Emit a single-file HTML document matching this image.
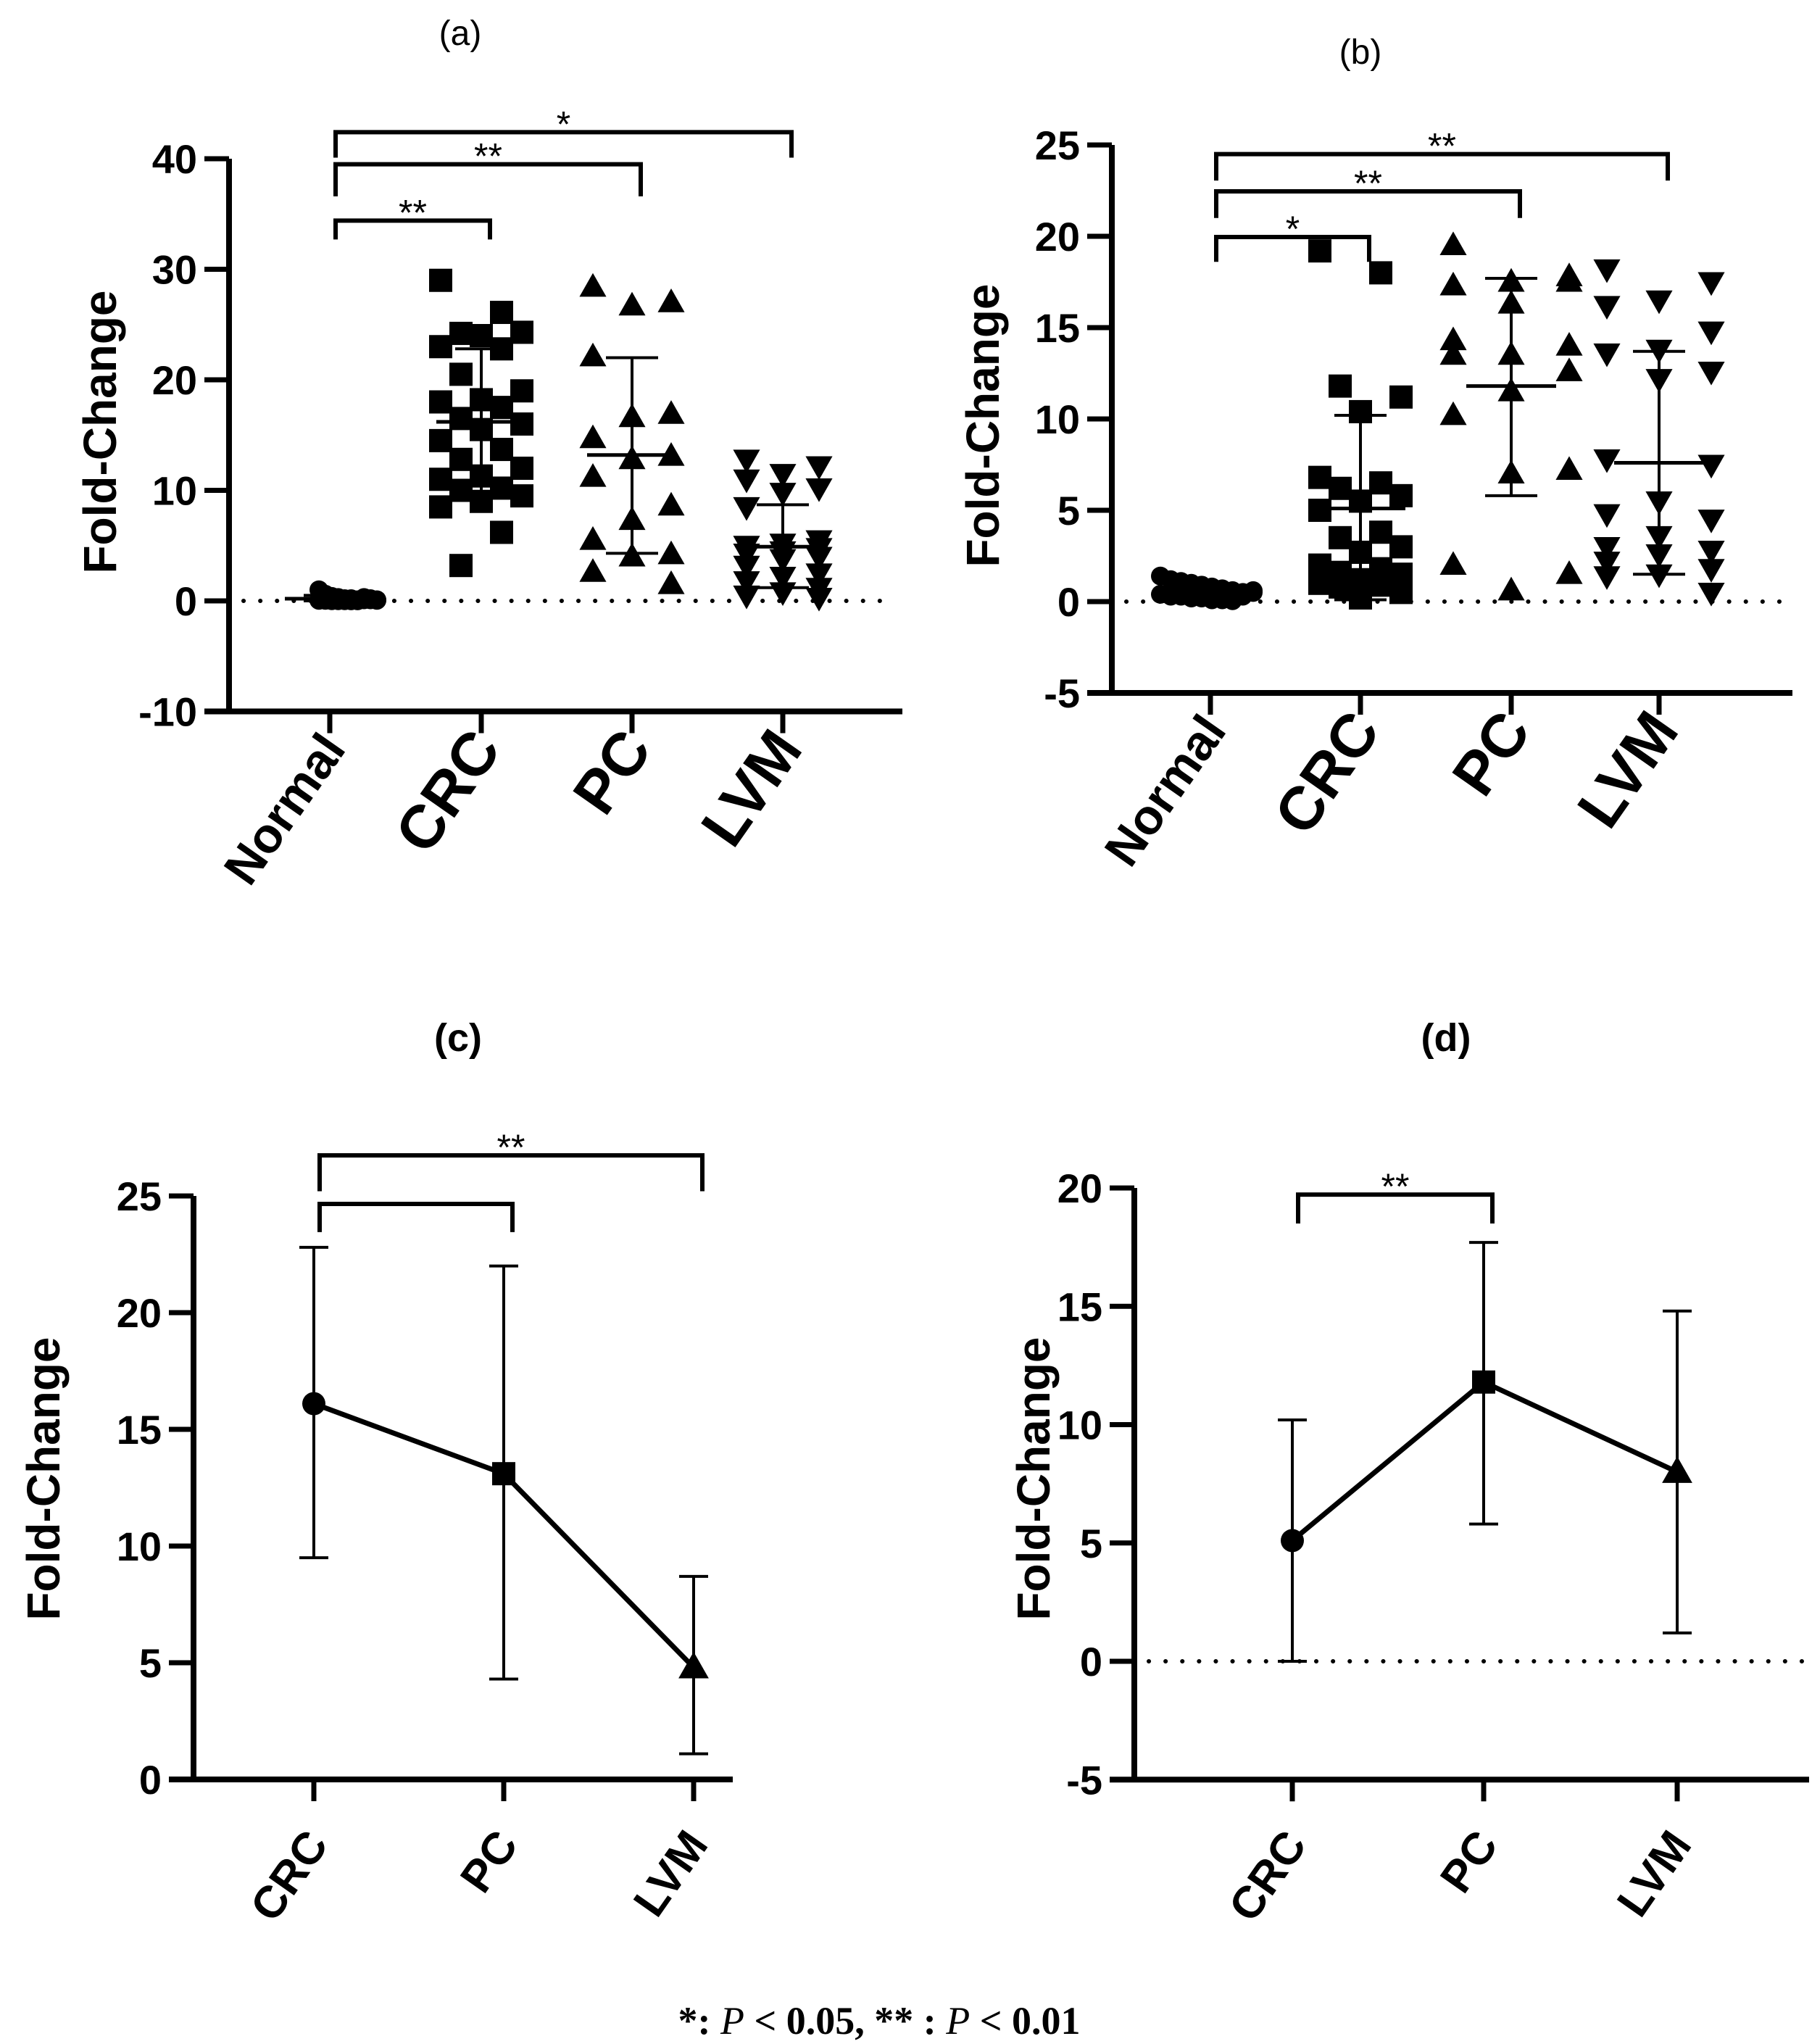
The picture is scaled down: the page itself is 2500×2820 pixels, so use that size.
<!DOCTYPE html>
<html><head><meta charset="utf-8"><style>
html,body{margin:0;padding:0;background:#fff;}
svg{display:block;}
text{font-family:"Liberation Sans",Arial,sans-serif;}
</style></head><body>
<svg id="fig" width="2500" height="2820" viewBox="0 0 2500 2820" xmlns="http://www.w3.org/2000/svg">
<rect width="2500" height="2820" fill="#fff"/>
<text x="635" y="62" font-size="48" text-anchor="middle">(a)</text>
<text x="1877" y="88" font-size="48" text-anchor="middle">(b)</text>
<text x="632" y="1450" font-size="54" font-weight="bold" text-anchor="middle">(c)</text>
<text x="1995" y="1450" font-size="54" font-weight="bold" text-anchor="middle">(d)</text>
<text x="1213" y="2806" font-size="54" font-weight="bold" text-anchor="middle" style="font-family:'Liberation Serif',serif">*: <tspan font-style="italic" font-weight="normal">P</tspan> &lt; 0.05, ** : <tspan font-style="italic" font-weight="normal">P</tspan> &lt; 0.01</text>
</svg>
<script>
// ---- Panel A data ----
const catsA = ["Normal","CRC","PC","LVM"];
const normalA = [1.0,0.6,0.4,0.3,0.2,0.2,0.1,0.1,0.1,0.05,0.05,0.05,0.02,0.02,0.02,0.01,0.01,0.3,0.2,0.1];
const crcA = [29.0,26.1,24.2,24.3,24.0,23.0,22.8,20.5,19.0,18.2,18.0,17.5,16.5,16.0,15.5,14.5,13.7,12.8,12.0,11.3,11.0,10.2,10.0,9.5,9.0,8.5,6.2,3.2];
const pcA = [28.4,27.0,26.7,22.1,16.9,16.6,14.7,13.1,12.8,11.2,8.6,7.3,5.5,4.2,4.0,2.6,1.5];
const lvmA = [12.8,12.2,11.5,11.0,10.2,9.8,8.5,5.5,5.2,5.0,4.8,4.5,4.3,4.0,3.8,3.2,2.5,2.2,1.8,1.2,0.8,0.5,0.3];
const meanA = [0.2,16.2,13.2,4.9];
const sdHiA = [0.5,22.8,22.0,8.7];
const sdLoA = [0.0,9.7,4.3,1.2];
const ticksA = [-10,0,10,20,30,40];
const bracketsA = [[0,1,34.4,32.7,"**"],[0,2,39.5,36.6,"**"],[0,3,42.4,40.1,"*"]];
// ---- Panel B data ----
const catsB = ["Normal","CRC","PC","LVM"];
const normalB = [1.4,1.2,1.1,1.0,0.9,0.8,0.7,0.6,0.5,0.5,0.4,0.3,0.3,0.2,0.2,0.1,0.1,0.05,0.3,0.6];
const crcB = [19.2,18.0,11.8,11.2,10.4,6.8,6.5,6.2,5.8,5.5,5.0,3.8,3.5,3.0,2.7,2.0,1.8,1.6,1.5,1.2,1.0,0.9,0.8,0.5,0.2];
const pcB = [19.5,17.8,17.5,17.3,17.5,16.3,14.3,14.0,13.5,13.5,12.6,11.5,10.2,7.2,7.0,2.0,1.5,0.6];
const lvmB = [18.2,17.5,16.5,16.2,14.8,13.8,13.6,12.6,12.2,7.8,7.5,5.5,4.8,4.5,3.6,3.0,2.8,2.6,2.2,1.8,1.5,1.4,0.5];
const meanB = [0.5,5.1,11.8,7.6];
const sdHiB = [0.9,10.2,17.7,13.7];
const sdLoB = [0.1,0.1,5.8,1.5];
const ticksB = [-5,0,5,10,15,20,25];
const bracketsB = [[0,1,19.96,18.6,"*"],[0,2,22.46,21.0,"**"],[0,3,24.5,23.05,"**"]];
// ---- Panel C data ----
const catsC = ["CRC","PC","LVM"];
const meanC = [16.1,13.1,4.8];
const hiC = [22.8,22.0,8.7];
const loC = [9.5,4.3,1.1];
const ticksC = [0,5,10,15,20,25];
const bracketsC = [[0,1,24.66,23.45,""],[0,2,26.74,25.2,"**"]];
// ---- Panel D data ----
const catsD = ["CRC","PC","LVM"];
const meanD = [5.1,11.8,8.0];
const hiD = [10.2,17.7,14.8];
const loD = [0.0,5.8,1.2];
const ticksD = [-5,0,5,10,15,20];
const bracketsD = [[0,1,19.72,18.5,"**"]];

const NS="http://www.w3.org/2000/svg";
const svg=document.getElementById('fig');
function mk(tag,attrs,parent){const e=document.createElementNS(NS,tag);for(const k in attrs)e.setAttribute(k,attrs[k]);(parent||svg).appendChild(e);return e;}

function axes(p,g){
  const l=mk('line',{x1:p.ax,y1:p.y(p.ymax),x2:p.ax,y2:p.y(p.ymin),stroke:'#000','stroke-width':8},g);
  
  
  p.ticks.forEach(t=>{
    const tk=mk('line',{x1:p.ax-34,y1:p.y(t),x2:p.ax,y2:p.y(t),stroke:'#000','stroke-width':7},g);
    
    
    const tx=mk('text',{x:p.ax-44,y:p.y(t)+20,'font-size':56,'font-weight':'bold','text-anchor':'end'},g);
    tx.textContent=t;
    
    
  });
  const xl=mk('line',{x1:p.ax-34,y1:p.y(p.ymin),x2:p.xend,y2:p.y(p.ymin),stroke:'#000','stroke-width':8},g);
  
  
  p.cats.forEach((c,i)=>{
    const cx=p.cx[i];
    const tk=mk('line',{x1:cx,y1:p.y(p.ymin),x2:cx,y2:p.y(p.ymin)+30,stroke:'#000','stroke-width':7},g);
    
    
    const fs=(c==='Normal'||p.small)?p.fsSmall:p.fsBig;
    const tx=mk('text',{x:0,y:0,'font-size':fs,'font-weight':'bold','text-anchor':'end',
      transform:`translate(${cx+fs*0.35},${p.y(p.ymin)+p.lblDy}) rotate(-55)`},g);
    tx.textContent=c;
    
    
  });
  const yt=mk('text',{x:0,y:0,'font-size':64,'font-weight':'bold','text-anchor':'middle',
    transform:`translate(${p.ylx},${p.yly}) rotate(-90)`},g);
  yt.textContent='Fold-Change';
  
  
  if(p.zero){
    const z=mk('line',{x1:p.ax+20,y1:p.y(0),x2:p.xend-10,y2:p.y(0),stroke:'#000','stroke-width':6,'stroke-dasharray':'0.1 23','stroke-linecap':'round'},g);
    
    
  }
}
function brackets(p,list,g){
  list.forEach(b=>{
    const x1=p.cx[b[0]]+8,x2=p.cx[b[1]]+12,yt=p.y(b[2]),ye=p.y(b[3]);
    const pl=mk('polyline',{points:`${x1},${ye} ${x1},${yt} ${x2},${yt} ${x2},${ye}`,fill:'none',stroke:'#000','stroke-width':6},g);
    
    
    if(b[4]){
      const t=mk('text',{x:(x1+x2)/2,y:yt+6,'font-size':50,'text-anchor':'middle'},g);
      t.textContent=b[4];
      
      
    }
  });
}
function marker(shape,x,y,s,g){
  let e;
  if(shape==='circle') e=mk('circle',{cx:x,cy:y,r:s/2,fill:'#000'},g);
  else if(shape==='square') e=mk('rect',{x:x-s/2,y:y-s/2,width:s,height:s,fill:'#000'},g);
  else if(shape==='tri') e=mk('polygon',{points:`${x},${y-s*0.6} ${x-s*0.58},${y+s*0.42} ${x+s*0.58},${y+s*0.42}`,fill:'#000'},g);
  else e=mk('polygon',{points:`${x},${y+s*0.6} ${x-s*0.58},${y-s*0.42} ${x+s*0.58},${y-s*0.42}`,fill:'#000'},g);
  return e;
}
function errbar(x,yh,yl,ym,half,cap,w,g,meanLine){
  const a=mk('line',{x1:x,y1:yh,x2:x,y2:yl,stroke:'#000','stroke-width':w},g);
  
  
  [yh,yl].forEach(yy=>{
    const c=mk('line',{x1:x-cap,y1:yy,x2:x+cap,y2:yy,stroke:'#000','stroke-width':w},g);
    
    
  });
  if(meanLine){
    const m=mk('line',{x1:x-half,y1:ym,x2:x+half,y2:ym,stroke:'#000','stroke-width':w+1},g);
    
    
  }
}
function scatter(p,groups,shapes,spreads,mean,hi,lo,g){
  groups.forEach((vals,gi)=>{
    vals.forEach((v,i)=>{
      let off;
      if(shapes[gi]==='circle') off=p.circShift-spreads[gi]+ (i%10)*(2*spreads[gi]/9);
      else if(shapes[gi]==='square') off=(((i*3)%5)-2)*spreads[gi]/2;
      else off=(((i*2)%3)-1)*spreads[gi];
      const m=marker(shapes[gi],p.cx[gi]+off,p.y(v),shapes[gi]==='circle'?26:32,g);
      
      
    });
    errbar(p.cx[gi],p.y(hi[gi]),p.y(lo[gi]),p.y(mean[gi]),62,36,4,g,true);
  });
}
function linechart(p,mean,hi,lo,g){
  mean.forEach((m,i)=>errbar(p.cx[i],p.y(hi[i]),p.y(lo[i]),p.y(m),0,20,4,g,false));
  const pts=mean.map((m,i)=>`${p.cx[i]},${p.y(m)}`).join(' ');
  const pl=mk('polyline',{points:pts,fill:'none',stroke:'#000','stroke-width':7},g);
  
  
  const shapes=['circle','square','tri'];
  mean.forEach((m,i)=>{
    const mk2=marker(shapes[i],p.cx[i],p.y(m),shapes[i]==='tri'?36:32,g);
    
    
  });
}
function panel(name){const g=mk('g',{});return g;}

const pA={ax:316,y:v=>829-15.25*v,ymin:-10,ymax:40,ticks:ticksA,xend:1245,cats:catsA,cx:[455,664,872,1080],fsBig:84,fsSmall:68,lblDy:52,ylx:160,yly:596,zero:true,circShift:25};
const gA=panel('panel-a');
axes(pA,gA);brackets(pA,bracketsA,gA);
scatter(pA,[normalA,crcA,pcA,lvmA],['circle','square','tri','inv'],[40,56,54,50],meanA,sdHiA,sdLoA,gA);

const pB={ax:1534,y:v=>830-25.2*v,ymin:-5,ymax:25,ticks:ticksB,xend:2473,cats:catsB,cx:[1670,1877,2085,2289],fsBig:84,fsSmall:68,lblDy:52,ylx:1378,yly:587,zero:true,circShift:-5};
const gB=panel('panel-b');
axes(pB,gB);brackets(pB,bracketsB,gB);
scatter(pB,[normalB,crcB,pcB,lvmB],['circle','square','tri','inv'],[64,56,80,72],meanB,sdHiB,sdLoB,gB);

const pC={ax:267,y:v=>2455-32.2*v,ymin:0,ymax:25,ticks:ticksC,xend:1011,cats:catsC,cx:[433,695,957],fsBig:62,fsSmall:62,small:true,lblDy:90,ylx:82,yly:2040,zero:false};
const gC=panel('panel-c');
axes(pC,gC);brackets(pC,bracketsC,gC);linechart(pC,meanC,hiC,loC,gC);

const pD={ax:1565,y:v=>2292-32.65*v,ymin:-5,ymax:20,ticks:ticksD,xend:2496,cats:catsD,cx:[1783,2047,2314],fsBig:62,fsSmall:62,small:true,lblDy:90,ylx:1448,yly:2040,zero:true};
const gD=panel('panel-d');
axes(pD,gD);brackets(pD,bracketsD,gD);linechart(pD,meanD,hiD,loD,gD);
</script>
</body></html>
